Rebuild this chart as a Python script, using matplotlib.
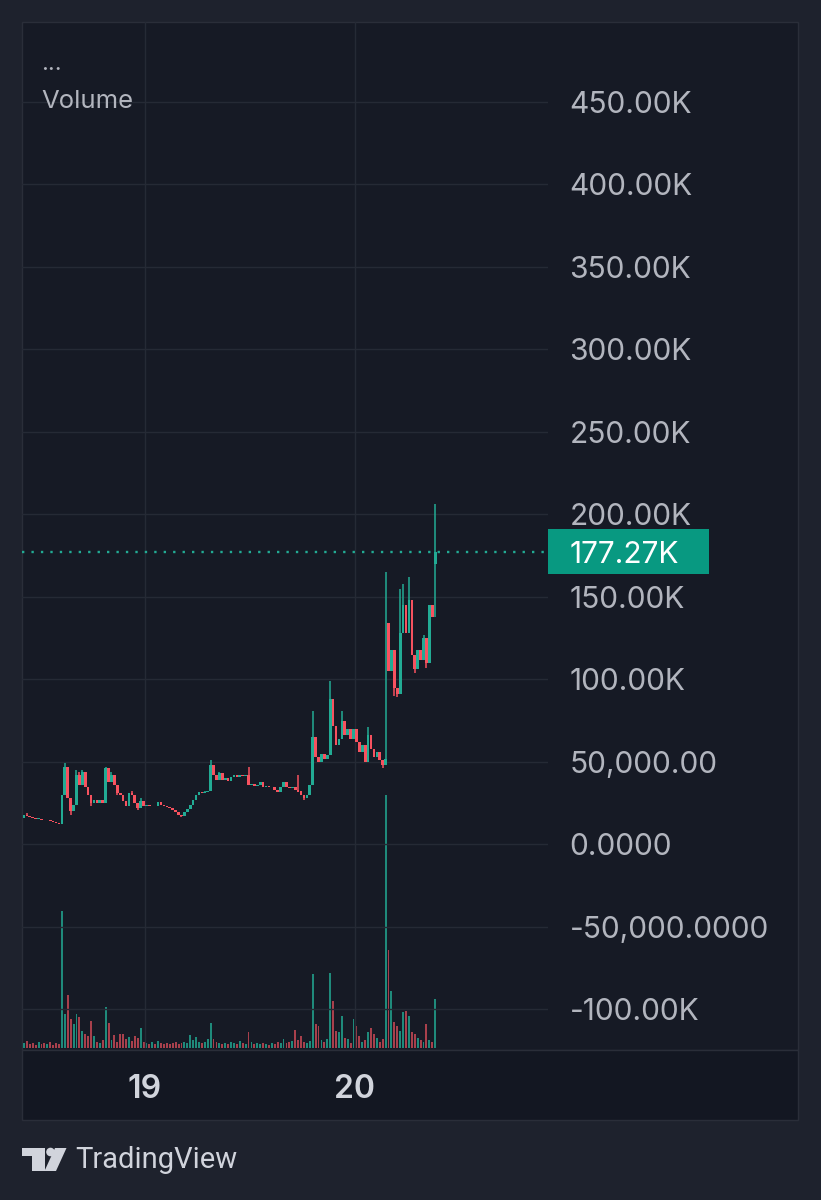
import numpy as np
import pandas as pd
import matplotlib
matplotlib.use("Agg")
import matplotlib.pyplot as plt
from matplotlib.patches import Rectangle, Polygon, Circle
from matplotlib.transforms import blended_transform_factory, Affine2D

W, H, DPI = 821, 1200, 100

# ---------------- data ----------------
start_time = "2024-03-18 10:10"
bar_freq = "20min"
first_open = 16.0
closes = [
    17.5, 17, 16.5, 16, 15.5, 15.5, 15, 14.5, 14.5, 14, 13.5, 13, 12.5,
    30, 47, 28, 20, 24, 42, 36, 44, 35, 30, 25, 27, 25, 27, 25, 46, 38,
    42, 36, 31, 30, 26, 23, 31, 30, 25, 22, 26, 23, 24, 23, 23.5, 23,
    25.5, 24, 23.5, 22.5, 22, 21, 19.5, 18, 17, 19.5, 21.5, 24, 27, 30,
    31.5, 31, 32, 32.5, 48, 42, 39, 43, 39, 40, 38.5, 41, 42, 41, 42,
    41.5, 42, 36, 36.5, 35.5, 36, 37.5, 35, 35.5, 34.5, 35, 33, 32,
    34.5, 38, 35, 34, 35, 33, 32, 30, 28, 30, 36, 65, 53, 50, 55, 52,
    54, 88, 72, 60, 64, 75, 66, 70, 64, 70, 62, 56, 60, 50, 66, 58, 53,
    56, 51, 48, 52, 105, 118, 95, 91, 128, 145, 128, 148, 115, 106, 118,
    112, 125, 110, 145, 138, 177.27,
]
open_overrides = {125: 134.0, 141: 170.0}
high_wicks = {1: 19, 14: 49, 18: 45, 19: 44, 20: 45, 28: 47, 30: 44, 37: 32,
              40: 28, 64: 51, 67: 44, 77: 47, 94: 42, 99: 81, 105: 99,
              109: 81, 118: 71, 124: 165, 129: 155, 130: 158, 132: 162,
              137: 127, 140: 145, 141: 206}
low_wicks = {16: 18, 23: 23, 32: 30, 39: 21, 54: 16.5, 96: 27, 123: 46,
             127: 90, 128: 89, 134: 104, 138: 107, 141: 138}
volumes = [
    5, 7, 4, 5, 3, 6, 4, 5, 4, 6, 3, 5, 4,
    137, 34, 53, 29, 24, 34, 31, 17, 14, 12, 27, 12, 6, 5, 8, 41, 25,
    8, 13, 6, 14, 14, 9, 11, 7, 12, 10, 20, 6, 5, 4, 6, 4, 7, 5, 4, 5,
    4, 5, 6, 4, 5, 6, 5, 13, 8, 11, 6, 5, 6, 9, 25, 9, 6, 5, 4, 5, 4,
    6, 5, 4, 7, 5, 4, 16, 6, 4, 5, 4, 5, 4, 3, 5, 4, 6, 5, 9, 5, 6, 7,
    18, 8, 12, 6, 5, 7, 74, 24, 22, 8, 6, 9, 75, 47, 17, 16, 32, 10, 9,
    5, 29, 22, 12, 6, 8, 16, 20, 14, 10, 6, 9, 253, 98, 57, 26, 22, 17,
    36, 37, 32, 16, 14, 10, 8, 6, 24, 8, 6, 49,
]
last_price = 177.27
last_label = "177.27K"
price_ticks = [450, 400, 350, 300, 250, 200, 150, 100, 50, 0, -50, -100]
price_labels = ["450.00K", "400.00K", "350.00K", "300.00K", "250.00K",
                "200.00K", "150.00K", "100.00K", "50,000.00", "0.0000",
                "-50,000.0000", "-100.00K"]
day_ticks = ["2024-03-19", "2024-03-20"]
day_labels = ["19", "20"]

# ---------------- styling ----------------
BG_OUT = "#1e222d"
BG_PANE = "#161a25"
BG_TIME = "#131722"
GRID = "#252a35"
BORDER = "#2a2e39"
UP = "#22ab94"
DOWN = "#f7525f"
VOL_UP = "#1f8a7b"
VOL_DOWN = "#a8404c"
LABEL = "#b2b5be"
BRIGHT = "#d1d4dc"
plt.rcParams["font.family"] = ["Inter", "DejaVu Sans"]

fig = plt.figure(figsize=(W / DPI, H / DPI), dpi=DPI, facecolor=BG_OUT)
pix = Affine2D().scale(1.0 / W, -1.0 / H).translate(0, 1) + fig.transFigure

# pane + time-scale backgrounds
fig.patches.append(Rectangle((22, 22), 776, 1028, transform=pix,
                             facecolor=BG_PANE, edgecolor=BORDER, lw=1, zorder=0))
fig.patches.append(Rectangle((22, 1050), 776, 70, transform=pix,
                             facecolor=BG_TIME, edgecolor=BORDER, lw=1, zorder=0))

pos = [22 / W, 1 - 1048 / H, 526 / W, 1026 / H]
ax_vol = fig.add_axes(pos, zorder=1)
ax = fig.add_axes(pos, zorder=2, sharex=ax_vol)
ax.set_facecolor("none")
ax_vol.set_facecolor("none")

times = pd.date_range(start_time, periods=len(closes), freq=bar_freq)
x = times.to_pydatetime()

opens = [first_open] + closes[:-1]
for k, v in open_overrides.items():
    opens[k] = v
opens = np.array(opens, dtype=float)
cl = np.array(closes, dtype=float)
highs = np.maximum(opens, cl)
lows = np.minimum(opens, cl)
for k, v in high_wicks.items():
    highs[k] = v
for k, v in low_wicks.items():
    lows[k] = v
up = cl >= opens
colors = np.where(up, UP, DOWN)
vcolors = np.where(up, VOL_UP, VOL_DOWN)

px_per_day = 210.0
body_w = pd.Timedelta(days=2.7 / px_per_day)
vol_w = pd.Timedelta(days=1.9 / px_per_day)

# volume
ax_vol.bar(x, volumes, width=vol_w, color=vcolors, linewidth=0)
ax_vol.set_ylim(0, max(volumes) / 0.247)
ax_vol.axis("off")

# grid
ax.set_ylim(-123.5, 498.5)
x0 = pd.Timestamp("2024-03-19") - pd.Timedelta(hours=14.06)
x1 = pd.Timestamp("2024-03-19") + pd.Timedelta(hours=46.06)
ax.set_xlim(x0, x1)
for t in price_ticks:
    ax.axhline(t, color=GRID, lw=1.0, zorder=0)
for d in day_ticks:
    ax.axvline(pd.Timestamp(d), color=GRID, lw=1.0, zorder=0)

# candles
ax.vlines(x, lows, highs, colors=colors, lw=1.1, zorder=3)
heights = np.maximum(np.abs(cl - opens), 0.5)
ax.bar(x, heights, bottom=np.minimum(opens, cl), width=body_w,
       color=colors, linewidth=0, zorder=4)

# last price line + label
ax.axhline(last_price, color=UP, lw=1.7, ls=(0, (1, 3.0)), zorder=5)
unit_per_px = (498.5 + 123.5) / 1026.0
bt = blended_transform_factory(fig.transFigure, ax.transData)
ax.add_patch(Rectangle((548 / W, last_price - 22.5 * unit_per_px), 161 / W,
                       45 * unit_per_px, transform=bt, facecolor="#089981",
                       edgecolor="none", clip_on=False, zorder=6))
ax.text(570 / W, last_price, last_label, transform=bt, color="white",
        fontsize=21.5, va="center_baseline", ha="left", zorder=7, clip_on=False)

# axes
ax.yaxis.tick_right()
ax.set_yticks(price_ticks)
ax.set_yticklabels(price_labels)
ax.tick_params(axis="y", length=0, pad=15.5, labelsize=21.5, labelcolor=LABEL)
ax.set_xticks([pd.Timestamp(d) for d in day_ticks])
ax.set_xticklabels(day_labels, fontweight="semibold")
ax.tick_params(axis="x", length=0, pad=19, labelsize=23, labelcolor=BRIGHT)
for s in ax.spines.values():
    s.set_visible(False)

# header
fig.text(41 / W, 1 - 64 / H, "...", color=LABEL, fontsize=17, ha="left", va="center")
fig.text(41 / W, 1 - 101 / H, "Volume", color=LABEL, fontsize=18.5, ha="left",
         va="center")

# TradingView logo
fig.patches.append(Polygon([(22, 1148), (44.5, 1148), (44.5, 1171), (31.5, 1171),
                            (31.5, 1156), (22, 1156)], closed=True, transform=pix,
                           facecolor=BRIGHT, edgecolor="none"))
fig.patches.append(Circle((50.5, 1152), 4.3, transform=pix, facecolor=BRIGHT,
                          edgecolor="none"))
fig.patches.append(Polygon([(55, 1148), (66.5, 1148), (56, 1171), (44.5, 1171)],
                           closed=True, transform=pix, facecolor=BRIGHT,
                           edgecolor="none"))
fig.text(75 / W, 1 - 1160 / H, "TradingView", color=BRIGHT, fontsize=21,
         family=["Roboto", "DejaVu Sans"], ha="left", va="center")

fig.savefig("out.png", dpi=DPI, facecolor=BG_OUT)
